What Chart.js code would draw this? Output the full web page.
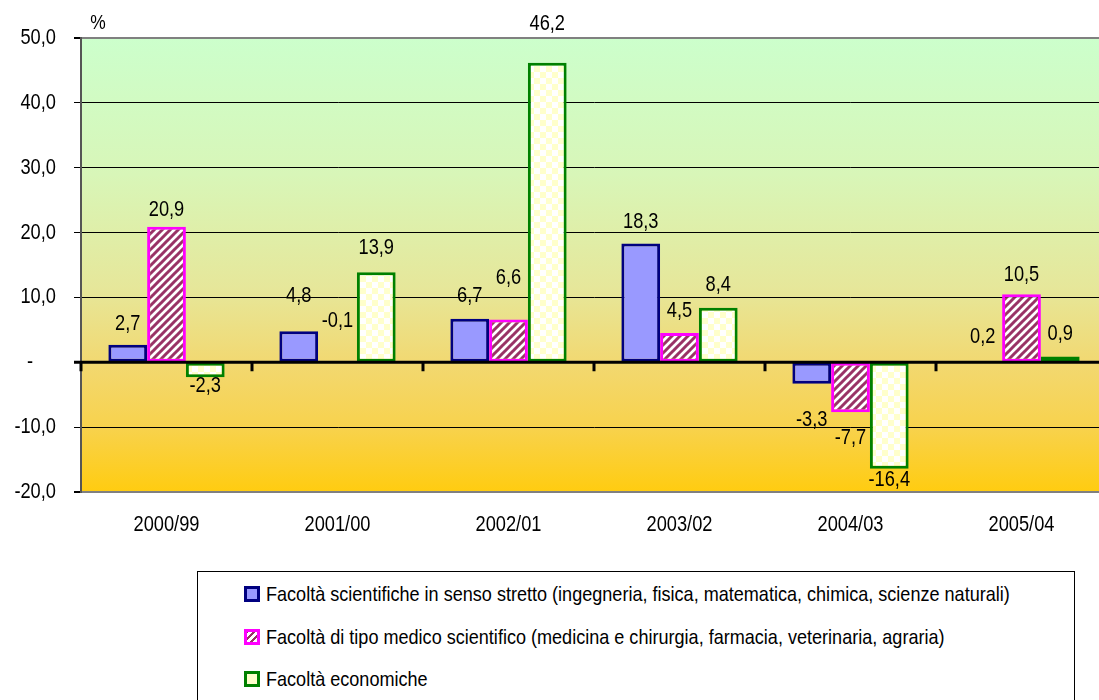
<!DOCTYPE html>
<html>
<head>
<meta charset="utf-8">
<script src="https://cdn.jsdelivr.net/npm/chart.js@4.4.1/dist/chart.umd.min.js"></script>
<style>
  body { margin: 0; background: #fff; overflow: hidden; width: 1099px; height: 700px; position: relative; }
  #wrap { position: absolute; left: 0; top: 0; width: 1110px; height: 560px; }
  #legend { position: absolute; left: 197px; top: 571px; width: 876px; height: 150px;
            border: 1px solid #000; background: #fff;
            font-family: 'Liberation Sans', Arial, sans-serif; font-size: 21px; color: #000; }
  .row { position: absolute; left: 46px; height: 24px; line-height: 24px; white-space: nowrap; }
  .sw { position: absolute; left: 0; top: 4px; width: 16px; height: 16px; box-sizing: border-box; border: 3px solid; }
  .row span { position: absolute; left: 22px; top: 0; transform: scaleX(0.86); transform-origin: 0 50%; }
</style>
</head>
<body>
<div id="wrap"><canvas id="chart"></canvas></div>
<div id="legend">
  <div class="row" style="top:10px"><div class="sw" style="border-color:#000080;background:#9999ff"></div><span>Facoltà scientifiche in senso stretto (ingegneria, fisica, matematica, chimica, scienze naturali)</span></div>
  <div class="row" style="top:53px"><div class="sw" style="border-color:#ff00ff;background:repeating-linear-gradient(-45deg,#fff 0 3px,#993366 3px 5px)"></div><span>Facoltà di tipo medico scientifico (medicina e chirurgia, farmacia, veterinaria, agraria)</span></div>
  <div class="row" style="top:95px"><div class="sw" style="border-color:#008000;background:#ffffcc"></div><span>Facoltà economiche</span></div>
</div>
<script>
const categories = ['2000/99', '2001/00', '2002/01', '2003/02', '2004/03', '2005/04'];
const scientifiche = [2.7, 4.8, 6.7, 18.3, -3.3, 0.2];
const medico = [20.9, -0.1, 6.6, 4.5, -7.7, 10.5];
const economiche = [-2.3, 13.9, 46.2, 8.4, -16.4, 0.9];
const yMin = -20, yMax = 50, yStep = 10;

// pixel distance from bar end to label centre (negative = below)
const labelLift = [
    [21, 35, 23, 22, -36, 24],
    [17, 42, 42, 22, -26, 19],
    [-9, 24, 39, 23, -11, 23]
];

const FONT = "'Liberation Sans', Arial, sans-serif";
const NARROW = 0.83;   // no condensed face installed, squeeze the regular one

function fmt(v) {
    return v.toFixed(1).replace('.', ',');
}

function yLabel(v) {
    return v === 0 ? '-' : fmt(v);
}

function narrowText(ctx, text, x, y, size, align) {
    ctx.save();
    ctx.translate(x, y);
    ctx.scale(NARROW, 1);
    ctx.font = size + 'px ' + FONT;
    ctx.textAlign = align;
    ctx.textBaseline = 'middle';
    ctx.fillStyle = '#000';
    ctx.fillText(text, 0, 0);
    ctx.restore();
}

function stripePattern() {
    const c = document.createElement('canvas');
    c.width = 8; c.height = 8;
    const g = c.getContext('2d');
    g.fillStyle = '#ffffff';
    g.fillRect(0, 0, 8, 8);
    g.strokeStyle = '#993366';
    g.lineWidth = 3;
    g.beginPath();
    g.moveTo(-1, 1); g.lineTo(1, -1);
    g.moveTo(0, 8); g.lineTo(8, 0);
    g.moveTo(7, 9); g.lineTo(9, 7);
    g.stroke();
    return g.createPattern(c, 'repeat');
}

function checkerPattern() {
    const c = document.createElement('canvas');
    c.width = 12; c.height = 12;
    const g = c.getContext('2d');
    g.fillStyle = '#ffffff';
    g.fillRect(0, 0, 12, 12);
    g.fillStyle = '#ffffcc';
    g.fillRect(0, 0, 6, 6);
    g.fillRect(6, 6, 6, 6);
    return g.createPattern(c, 'repeat');
}

const backgroundPlugin = {
    id: 'plotBackground',
    beforeDraw(chart) {
        const { ctx, chartArea: a } = chart;
        const grad = ctx.createLinearGradient(0, a.top, 0, a.bottom);
        grad.addColorStop(0, '#ccffcc');
        grad.addColorStop(0.3, '#d8f6b8');
        grad.addColorStop(0.55, '#e6e79a');
        grad.addColorStop(0.72, '#f2d870');
        grad.addColorStop(0.86, '#f8d24c');
        grad.addColorStop(1, '#ffcc10');
        ctx.save();
        ctx.fillStyle = grad;
        ctx.fillRect(a.left, a.top, a.right - a.left, a.bottom - a.top);
        ctx.restore();
    }
};

const overlayPlugin = {
    id: 'overlay',
    afterDatasetsDraw(chart) {
        const { ctx, chartArea: a } = chart;
        const xs = chart.scales.x, ys = chart.scales.y;
        const y0 = ys.getPixelForValue(0);
        ctx.save();
        // zero line with category ticks
        ctx.strokeStyle = '#000';
        ctx.lineWidth = 3;
        ctx.beginPath();
        ctx.moveTo(a.left - 7, y0);
        ctx.lineTo(a.right, y0);
        const n = categories.length;
        const w = (a.right - a.left) / n;
        for (let i = 0; i < n; i++) {
            const bx = a.left + i * w;
            ctx.moveTo(bx, y0);
            ctx.lineTo(bx, y0 + 9);
        }
        ctx.stroke();
        ctx.restore();

        // value labels
        chart.data.datasets.forEach((ds, di) => {
            chart.getDatasetMeta(di).data.forEach((bar, i) => {
                narrowText(ctx, fmt(ds.data[i]), bar.x, bar.y - labelLift[di][i], 22, 'center');
            });
        });

        // axis labels
        ys.ticks.forEach(t => {
            const py = ys.getPixelForValue(t.value);
            if (t.value === 0) narrowText(ctx, '-', 30, py, 22, 'center');
            else narrowText(ctx, yLabel(t.value), 56, py, 22, 'right');
        });
        categories.forEach((c, i) => {
            narrowText(ctx, c, xs.getPixelForValue(i), a.bottom + 33, 22, 'center');
        });

        // unit
        narrowText(ctx, '%', 98, 23, 21, 'center');
    }
};

new Chart(document.getElementById('chart'), {
    type: 'bar',
    data: {
        labels: categories,
        datasets: [
            { label: 'Facoltà scientifiche', data: scientifiche, backgroundColor: '#9999ff', borderColor: '#000080' },
            { label: 'Facoltà medico scientifiche', data: medico, backgroundColor: stripePattern(), borderColor: '#ff00ff' },
            { label: 'Facoltà economiche', data: economiche, backgroundColor: checkerPattern(), borderColor: '#008000' }
        ]
    },
    options: {
        responsive: true,
        maintainAspectRatio: false,
        animation: false,
        layout: { padding: { top: 38, right: 3, left: 0, bottom: 0 } },
        datasets: {
            bar: { borderWidth: 3, borderSkipped: false, categoryPercentage: 0.68, barPercentage: 1 }
        },
        plugins: {
            legend: { display: false },
            tooltip: { enabled: false }
        },
        scales: {
            x: {
                grid: { display: false },
                border: { display: false },
                ticks: { display: false },
                afterFit(scale) { scale.height = 68; }
            },
            y: {
                min: yMin,
                max: yMax,
                ticks: { stepSize: yStep, display: false },
                grid: {
                    color: c => c.tick.value === 0 ? 'rgba(0,0,0,0)' :
                        (c.tick.value === yMax || c.tick.value === yMin) ? '#808080' : '#000',
                    lineWidth: c => (c.tick.value === yMax || c.tick.value === yMin) ? 2 : 1,
                    tickLength: 7,
                    tickColor: '#000'
                },
                border: { color: '#555', width: 2 },
                afterFit(scale) { scale.width = 81; }
            }
        }
    },
    plugins: [backgroundPlugin, overlayPlugin]
});
</script>
</body>
</html>
